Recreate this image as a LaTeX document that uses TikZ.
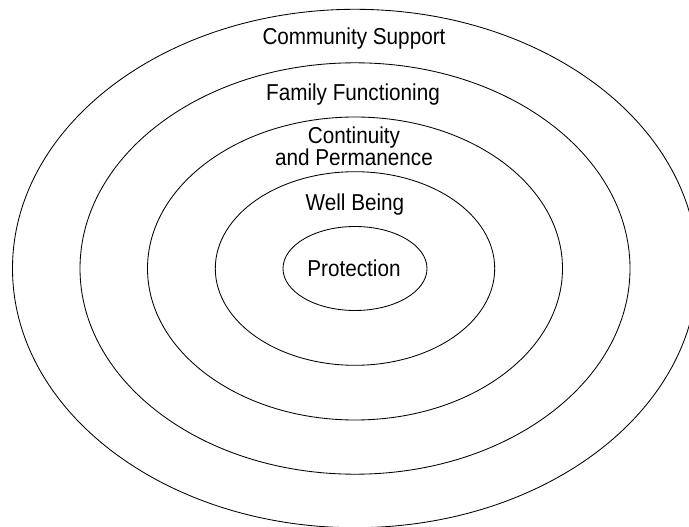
\documentclass[tikz,border=0pt]{standalone}
\usepackage{fontspec}
\setmainfont[FakeStretch=0.9]{Liberation Sans}
\begin{document}
\begin{tikzpicture}[x=1pt,y=-1pt,
  ring/.style={draw=black,line width=0.85pt},
  lbl/.style={anchor=base,inner sep=0pt,font=\fontsize{23}{26}\selectfont}]
\useasboundingbox (0,0) rectangle (689,527);
\clip (0,0) rectangle (689,527);
\coordinate (c) at (355,268.5);
\draw[ring] (c) ellipse [x radius=342.5, y radius=259.2];
\draw[ring] (c) ellipse [x radius=275, y radius=205.7];
\draw[ring] (c) ellipse [x radius=207.5, y radius=151.5];
\draw[ring] (c) ellipse [x radius=139.7, y radius=96.8];
\draw[ring] (c) ellipse [x radius=72, y radius=42];
\node[lbl] (community) at (354,45) {Community Support};
\node[lbl] (family) at (353,101) {Family Functioning};
\node[lbl] (cont1) at (354,143.3) {Continuity};
\node[lbl] (cont2) at (354,165) {and Permanence};
\node[lbl] (well) at (355,210) {Well Being};
\node[lbl] (prot) at (354,276) {Protection};
\end{tikzpicture}
\end{document}
